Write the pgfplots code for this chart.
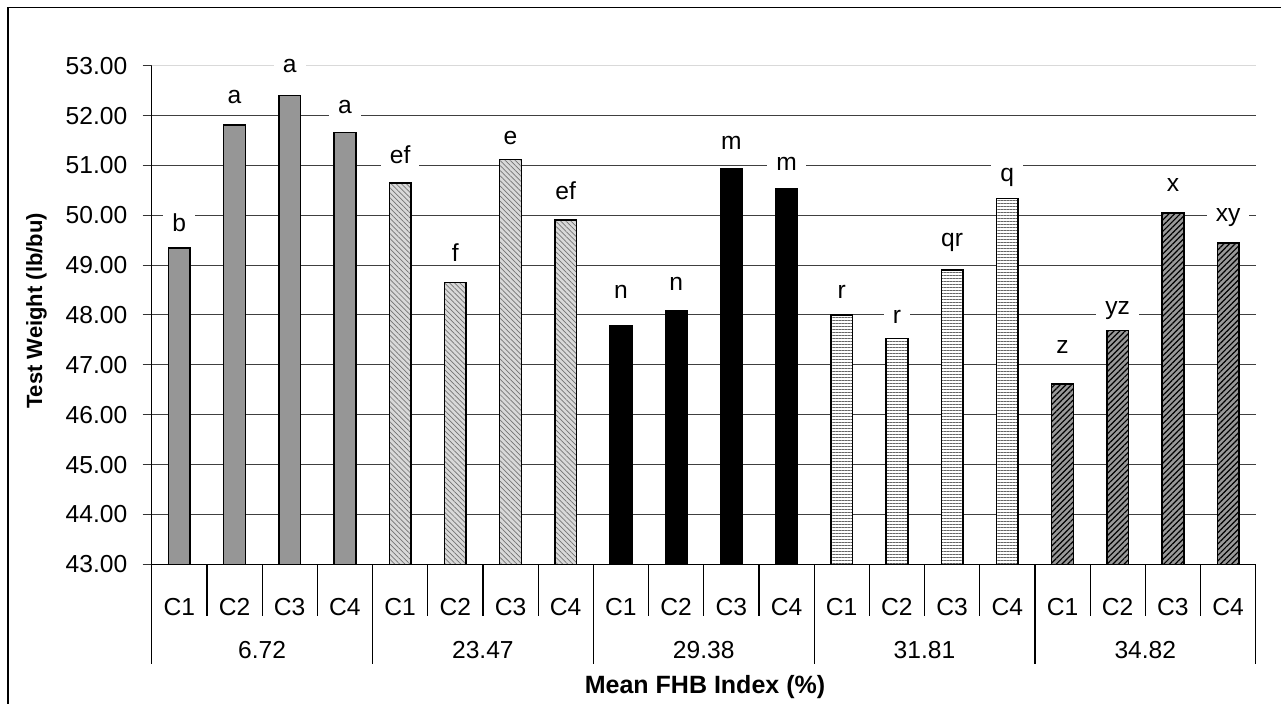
\documentclass[border=0pt]{standalone}
\usepackage{fontspec}
\setmainfont{Liberation Sans}
\usepackage{pgfplots}
\pgfplotsset{compat=1.18}
\usepackage{pgfplotstable}
\usetikzlibrary{patterns.meta}

\pgfplotstableread{
x y
0 49.34
1 51.81
2 52.40
3 51.66
}\gA
\pgfplotstableread{
x y
4 50.65
5 48.65
6 51.12
7 49.90
}\gB
\pgfplotstableread{
x y
8 47.79
9 48.09
10 50.94
11 50.53
}\gC
\pgfplotstableread{
x y
12 48.00
13 47.53
14 48.90
15 50.34
}\gD
\pgfplotstableread{
x y
16 46.62
17 47.69
18 50.05
19 49.44
}\gE
\pgfplotstableread{
x ly lab
0 49.67 b
1 52.25 a
2 52.86 a
3 52.05 a
4 51.04 ef
5 49.07 f
6 51.42 e
7 50.31 ef
8 48.33 n
9 48.50 n
10 51.31 m
11 50.89 m
12 48.33 r
13 47.83 r
14 49.38 qr
15 50.68 q
16 47.23 z
17 48.00 yz
18 50.47 x
19 49.88 xy
}\labs

\newcommand{\fs}{\fontsize{12.3}{14.6}\selectfont}

\begin{document}
\begin{tikzpicture}
\useasboundingbox (0,0) rectangle (640.5pt,352pt);
\draw[line width=0.9pt] (4pt,-2pt) -- (4pt,348.25pt) -- (642pt,348.25pt);
\begin{axis}[
  at={(75.85pt,69.85pt)}, anchor=south west,
  scale only axis, width=552pt, height=249.3pt,
  xmin=-0.5, xmax=19.5, ymin=43, ymax=53,
  axis lines=left, axis line style={-, black, line width=0.6pt},
  ytick={43,...,52},
  extra y ticks={53},
  extra y tick style={grid=major, grid style={black!15, line width=0.7pt}},
  ymajorgrids, grid style={black!75, line width=0.5pt},
  ytick align=outside, major tick length=4.5pt,
  ytick style={black!80, line width=0.5pt},
  xtick={0,...,19},
  xticklabels={C1,C2,C3,C4,C1,C2,C3,C4,C1,C2,C3,C4,C1,C2,C3,C4,C1,C2,C3,C4},
  xtick style={draw=none},
  /pgf/number format/.cd, fixed, fixed zerofill, precision=2, assume math mode=true,
  /pgfplots/.cd,
  tick label style={font=\fs, text=black},
  yticklabel style={anchor=east, inner sep=0pt, xshift=-7.5pt},
  xticklabel style={anchor=base, inner sep=0pt, yshift=-23.2pt},
]
\addplot[ybar, bar width=10.85pt, bar shift=0pt, draw=black, line width=0.75pt, fill=black!41] table[x=x,y=y]{\gA};
\addplot[ybar, bar width=10.85pt, bar shift=0pt, draw=black, line width=0.75pt, fill=black!15,
  postaction={pattern color=black!55, pattern={Lines[angle=-45,distance=1.8pt,line width=0.35pt]}}] table[x=x,y=y]{\gB};
\addplot[ybar, bar width=10.85pt, bar shift=0pt, draw=black, line width=0.75pt, fill=black] table[x=x,y=y]{\gC};
\addplot[ybar, bar width=10.85pt, bar shift=0pt, draw=black, line width=0.75pt, fill=white,
  postaction={pattern color=black!60, pattern={Lines[angle=0,distance=1.5pt,line width=0.35pt]}}] table[x=x,y=y]{\gD};
\addplot[ybar, bar width=10.85pt, bar shift=0pt, draw=black, line width=0.75pt, fill=black!40,
  postaction={pattern color=black, pattern={Lines[angle=45,distance=2pt,line width=0.6pt]}}] table[x=x,y=y]{\gE};
\addplot[draw=none, fill=none, only marks, mark=*, mark size=0pt, mark options={draw=none, fill=none},
  point meta=explicit symbolic, nodes near coords,
  every node near coord/.append style={anchor=base, fill=white, inner xsep=4.5pt, inner ysep=1.5pt, font=\fs, text=black}]
  table[x=x, y=ly, meta=lab]{\labs};
\end{axis}
\foreach \k in {0,...,20} \draw[black, line width=0.6pt] (75.85pt+\k*27.6pt,69.85pt) -- ++(0,-25.85pt);
\foreach \k in {0,4,...,20} \draw[black, line width=0.6pt] (75.85pt+\k*27.6pt,69.85pt) -- ++(0,-50pt);
\foreach \g/\t in {0/6.72,1/23.47,2/29.38,3/31.81,4/34.82}
  \node[anchor=base, inner sep=0pt, font=\fs] at (75.85pt+\g*110.4pt+55.2pt,22.85pt) {\t};
\node[anchor=base, inner sep=0pt, font=\fontsize{12.5}{15}\selectfont\bfseries] at (352.5pt,5pt) {Mean FHB Index (\%)};
\node[rotate=90, inner sep=0pt, font=\fontsize{11}{13}\selectfont\bfseries] at (18.25pt,196.5pt) {Test Weight (lb/bu)};
\end{tikzpicture}
\end{document}
